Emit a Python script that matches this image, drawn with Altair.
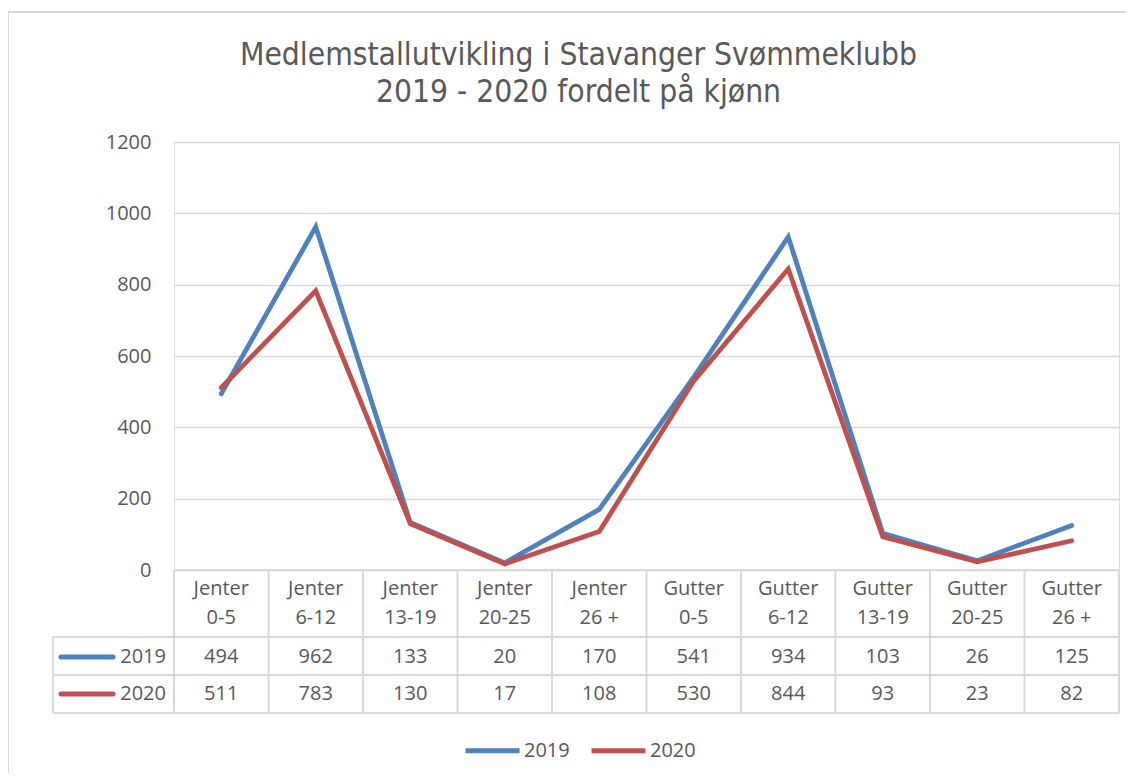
import altair as alt
import pandas as pd

# ---- data ----
groups = ["Jenter"] * 5 + ["Gutter"] * 5
ages = ["0-5", "6-12", "13-19", "20-25", "26 +"] * 2
years = ["2019", "2020"]
v2019 = [494, 962, 133, 20, 170, 541, 934, 103, 26, 125]
v2020 = [511, 783, 130, 17, 108, 530, 844, 93, 23, 82]
y_ticks = [0, 200, 400, 600, 800, 1000, 1200]
title_lines = ["Medlemstallutvikling i Stavanger Svømmeklubb", "2019 - 2020 fordelt på kjønn"]
colors = ["#4F81BD", "#C0504D"]

cats = [f"{g} {a}" for g, a in zip(groups, ages)]
rows = []
for yr, vals in zip(years, [v2019, v2020]):
    for c, g, a, v in zip(cats, groups, ages, vals):
        rows.append(dict(cat=c, group=g, age=a, year=yr, value=v))
df = pd.DataFrame(rows)
cat_df = pd.DataFrame(dict(cat=cats, group=groups, age=ages))
year_df = pd.DataFrame(dict(year=years))
one = pd.DataFrame(dict(k=[0]))

W, H = 945, 428
STEP = W / len(cats)
GRID = "#D9D9D9"
TXT = "#595959"
FONT = "Open Sans"
FS = 20

xenc = alt.X("cat:N", scale=alt.Scale(type="point", padding=0.5, domain=cats), axis=None)
color_scale = alt.Scale(domain=years, range=colors)
yrow = alt.Y("year:N", scale=alt.Scale(type="point", domain=years, range=[515, 552], padding=0), axis=None)

lines = alt.Chart(df).mark_line(strokeWidth=4.8, strokeCap="round").encode(
    x=xenc,
    y=alt.Y("value:Q", scale=alt.Scale(domain=[0, 1200], nice=False),
            axis=alt.Axis(values=y_ticks, format="d", grid=True, gridColor=GRID, gridWidth=1.5,
                          domain=False, ticks=False, labelPadding=23, labelFont=FONT,
                          labelFontSize=FS, labelColor=TXT, title=None)),
    color=alt.Color("year:N", scale=color_scale,
                    legend=alt.Legend(orient="none", legendX=289, legendY=579,
                                      direction="horizontal", title=None,
                                      symbolType="stroke", symbolSize=2916,
                                      symbolStrokeWidth=5, labelFont=FONT,
                                      labelFontSize=FS, labelColor=TXT,
                                      labelOffset=2, columnPadding=11)),
)

txt = dict(font=FONT, fontSize=FS, color=TXT, baseline="middle")
hdr1 = alt.Chart(cat_df).mark_text(**txt).encode(x=xenc, y=alt.value(447), text="group:N")
hdr2 = alt.Chart(cat_df).mark_text(**txt).encode(x=xenc, y=alt.value(476), text="age:N")
vals = alt.Chart(df).mark_text(**txt).encode(x=xenc, y=yrow, text="value:Q")

vlines = alt.Chart(cat_df).mark_rule(color=GRID, strokeWidth=2, xOffset=-STEP / 2).encode(
    x=xenc, y=alt.value(H), y2=alt.value(571))


def rule(x, x2, y, y2):
    return alt.Chart(one).mark_rule(color=GRID, strokeWidth=2).encode(
        x=alt.value(x), x2=alt.value(x2), y=alt.value(y), y2=alt.value(y2))


frame = [
    rule(W, W, H, 571),          # right edge of table
    rule(0, W, H, H),            # table top
    rule(-121, W, 495, 495),
    rule(-121, W, 533, 533),
    rule(-121, W, 571, 571),
    rule(-121, -121, 495, 571),  # left edge of legend column
    rule(-166, -166, -130, 640),  # chart border left
    rule(-166, 960, -130, -130),  # chart border top
]

leg_lines = alt.Chart(year_df).mark_rule(strokeWidth=5, strokeCap="round").encode(
    x=alt.value(-113), x2=alt.value(-61), y=yrow, color=alt.Color("year:N", scale=color_scale))
leg_text = alt.Chart(year_df).mark_text(align="right", **txt).encode(
    x=alt.value(-8), y=yrow, text="year:N")

chart = alt.layer(
    *frame, vlines, lines, hdr1, hdr2, vals, leg_lines, leg_text
).resolve_scale(y="independent").properties(
    width=W, height=H,
    title=alt.Title(title_lines, font="DejaVu Sans Condensed", fontSize=31.5,
                    fontWeight="normal", color=TXT, anchor="middle", dx=-68,
                    offset=-97, lineHeight=37),
    autosize=alt.AutoSizeParams(type="none"),
    padding={"left": 166, "top": 134, "right": 7, "bottom": 203},
).configure_view(stroke=None).configure(background="white")

chart.save("out.html", embed_options={"renderer": "svg", "actions": False})
